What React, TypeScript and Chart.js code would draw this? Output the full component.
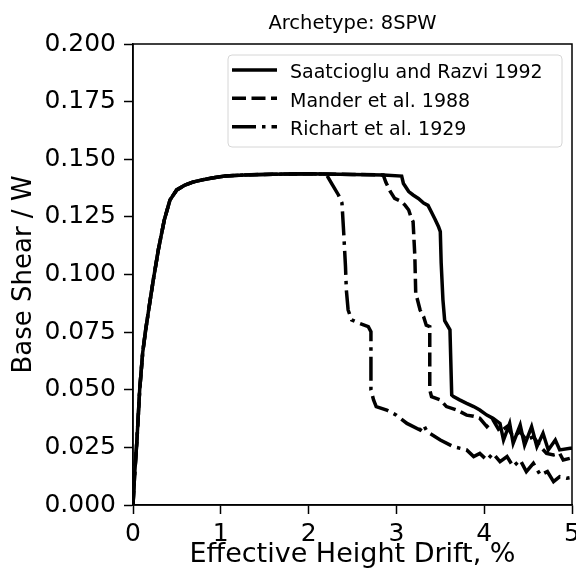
import React, { useEffect, useRef } from 'react';
import { Chart, registerables } from 'chart.js';

Chart.register(...registerables);

const TITLE = 'Archetype: 8SPW';
const X_LABEL = 'Effective Height Drift, %';
const Y_LABEL = 'Base Shear / W';
const SERIES_NAMES = ['Saatcioglu and Razvi 1992', 'Mander et al. 1988', 'Richart et al. 1929'];
const X_MIN = 0;
const X_MAX = 5;
const X_STEP = 1;
const Y_MIN = 0;
const Y_MAX = 0.2;
const Y_STEP = 0.025;

// shared elastic rise and plateau
const commonDrift = [0, 0.02, 0.045, 0.076, 0.11, 0.144, 0.19, 0.231, 0.29, 0.356, 0.421, 0.498, 0.592, 0.68, 0.782, 0.9, 1.048, 1.276, 1.6, 2.0, 2.2];
const commonShear = [0, 0.014, 0.0282, 0.0499, 0.066, 0.0759, 0.0875, 0.0976, 0.111, 0.1236, 0.1323, 0.1367, 0.1388, 0.1401, 0.141, 0.1419, 0.1427, 0.1432, 0.1435, 0.1437, 0.1436];

const saatDrift = [2.5, 2.85, 3.06, 3.08, 3.14, 3.19, 3.25, 3.31, 3.36, 3.4, 3.44, 3.48, 3.5, 3.51, 3.53, 3.55, 3.61, 3.63, 3.65, 3.72, 3.8, 3.88, 3.95, 4.03, 4.1, 4.18, 4.22, 4.29, 4.33, 4.41, 4.46, 4.54, 4.6, 4.67, 4.73, 4.81, 4.86, 4.98, 5.0];
const saatShear = [0.1434, 0.1432, 0.1427, 0.1395, 0.136, 0.1345, 0.133, 0.131, 0.13, 0.127, 0.124, 0.1207, 0.1186, 0.105, 0.089, 0.08, 0.076, 0.0477, 0.047, 0.0456, 0.0441, 0.0427, 0.0412, 0.039, 0.0376, 0.0354, 0.0282, 0.0354, 0.0268, 0.0347, 0.026, 0.034, 0.0253, 0.0311, 0.0239, 0.0282, 0.0239, 0.0246, 0.0246];

const manderDrift = [2.5, 2.85, 2.88, 2.93, 2.98, 3.06, 3.1, 3.14, 3.17, 3.19, 3.21, 3.22, 3.27, 3.31, 3.34, 3.38, 3.38, 3.4, 3.5, 3.57, 3.69, 3.8, 3.88, 3.95, 4.03, 4.1, 4.18, 4.26, 4.33, 4.41, 4.48, 4.56, 4.64, 4.71, 4.79, 4.86, 4.9, 4.98, 5.0];
const manderShear = [0.1434, 0.1432, 0.14, 0.136, 0.133, 0.1316, 0.13, 0.128, 0.1244, 0.1229, 0.108, 0.092, 0.0846, 0.0817, 0.078, 0.0774, 0.0499, 0.047, 0.0456, 0.0427, 0.0412, 0.039, 0.0385, 0.0376, 0.034, 0.0369, 0.0318, 0.034, 0.0296, 0.0318, 0.0282, 0.0296, 0.0253, 0.0224, 0.0217, 0.0224, 0.0195, 0.0203, 0.0205];

const richartDrift = [2.27, 2.34, 2.38, 2.4, 2.42, 2.43, 2.45, 2.49, 2.58, 2.68, 2.71, 2.71, 2.74, 2.77, 2.89, 3.0, 3.12, 3.27, 3.31, 3.35, 3.5, 3.65, 3.8, 3.88, 3.95, 4.03, 4.1, 4.18, 4.26, 4.33, 4.41, 4.48, 4.56, 4.64, 4.72, 4.79, 4.86, 4.94, 5.0];
const richartShear = [0.139, 0.1345, 0.131, 0.118, 0.1035, 0.0933, 0.0846, 0.0803, 0.0788, 0.0774, 0.0752, 0.0499, 0.0456, 0.0427, 0.0412, 0.039, 0.0354, 0.0325, 0.0347, 0.0318, 0.0282, 0.0253, 0.0239, 0.021, 0.0224, 0.0195, 0.0224, 0.0188, 0.021, 0.0167, 0.0195, 0.0145, 0.0181, 0.013, 0.0145, 0.0101, 0.0123, 0.0116, 0.012];

const FONT = '"DejaVu Sans", "Liberation Sans", sans-serif';
const LINE_W = 3.5;
const DASHES = [[], [14, 5.5], [24, 6, 3.5, 6]];

function toPoints(xs: number[], ys: number[]) {
  return xs.map((x, i) => ({ x, y: ys[i] }));
}

const overlayPlugin = {
  id: 'overlay',
  afterDraw(chart: any) {
    const { ctx, chartArea: a } = chart;
    ctx.save();
    // spines
    ctx.strokeStyle = '#000';
    ctx.lineWidth = 1.5;
    ctx.setLineDash([]);
    ctx.strokeRect(a.left, a.top, a.right - a.left, a.bottom - a.top);
    // title
    ctx.fillStyle = '#000';
    ctx.font = `19.5px ${FONT}`;
    ctx.textAlign = 'center';
    ctx.textBaseline = 'alphabetic';
    ctx.fillText(TITLE, (a.left + a.right) / 2, a.top - 15.5);
    // legend box
    const lx = a.left + 95;
    const ly = a.top + 11;
    const lw = 334;
    const lh = 92;
    const r = 4;
    ctx.beginPath();
    ctx.moveTo(lx + r, ly);
    ctx.lineTo(lx + lw - r, ly);
    ctx.arcTo(lx + lw, ly, lx + lw, ly + r, r);
    ctx.lineTo(lx + lw, ly + lh - r);
    ctx.arcTo(lx + lw, ly + lh, lx + lw - r, ly + lh, r);
    ctx.lineTo(lx + r, ly + lh);
    ctx.arcTo(lx, ly + lh, lx, ly + lh - r, r);
    ctx.lineTo(lx, ly + r);
    ctx.arcTo(lx, ly, lx + r, ly, r);
    ctx.closePath();
    ctx.fillStyle = 'rgba(255,255,255,0.8)';
    ctx.fill();
    ctx.strokeStyle = '#d6d6d6';
    ctx.lineWidth = 1;
    ctx.stroke();
    // legend entries
    ctx.font = `19px ${FONT}`;
    ctx.textAlign = 'left';
    chart.data.datasets.forEach((ds: any, i: number) => {
      const y = a.top + 26 + i * 28.35;
      ctx.strokeStyle = '#000';
      ctx.lineWidth = LINE_W;
      ctx.lineCap = 'butt';
      ctx.setLineDash(ds.borderDash || []);
      ctx.beginPath();
      ctx.moveTo(lx + 4, y);
      ctx.lineTo(lx + 49, y);
      ctx.stroke();
      ctx.setLineDash([]);
      ctx.fillStyle = '#000';
      ctx.fillText(ds.label, lx + 62, y + 8.3);
    });
    ctx.restore();
  },
};

export default function App() {
  const ref = useRef<HTMLCanvasElement | null>(null);
  useEffect(() => {
    if (!ref.current) return;
    const seriesX = [
      [...commonDrift, ...saatDrift],
      [...commonDrift, ...manderDrift],
      [...commonDrift, ...richartDrift],
    ];
    const seriesY = [
      [...commonShear, ...saatShear],
      [...commonShear, ...manderShear],
      [...commonShear, ...richartShear],
    ];
    const chart = new Chart(ref.current, {
      type: 'line',
      data: {
        datasets: SERIES_NAMES.map((name, i) => ({
          label: name,
          data: toPoints(seriesX[i], seriesY[i]),
          borderColor: '#000',
          backgroundColor: '#000',
          borderWidth: LINE_W,
          borderDash: DASHES[i],
          borderCapStyle: 'butt',
          pointRadius: 0,
          pointHoverRadius: 0,
          tension: 0,
          fill: false,
          order: 2 - i,
        })),
      },
      options: {
        responsive: false,
        animation: false,
        events: [],
        layout: { padding: { top: 44, right: 4, left: 0, bottom: 0 } },
        plugins: {
          legend: { display: false },
          title: { display: false },
          tooltip: { enabled: false },
        },
        scales: {
          x: {
            type: 'linear',
            min: X_MIN,
            max: X_MAX,
            afterFit: (s: any) => {
              s.height = 78;
              s.paddingRight = 0;
              s.paddingLeft = 0;
            },
            ticks: {
              stepSize: X_STEP,
              color: '#000',
              padding: 5,
              font: { family: FONT, size: 25 },
              maxRotation: 0,
            },
            grid: {
              drawOnChartArea: false,
              drawTicks: true,
              tickLength: 9,
              tickWidth: 1.5,
              tickColor: '#000',
            },
            border: { display: true, color: '#000', width: 1.5 },
            title: {
              display: true,
              text: X_LABEL,
              color: '#000',
              font: { family: FONT, size: 27 },
              padding: { top: 0, bottom: 12 },
            },
          },
          y: {
            type: 'linear',
            min: Y_MIN,
            max: Y_MAX,
            afterFit: (s: any) => {
              s.width = 133;
            },
            ticks: {
              stepSize: Y_STEP,
              color: '#000',
              padding: 8,
              font: { family: FONT, size: 25 },
              callback: (v: any) => Number(v).toFixed(3),
            },
            grid: {
              drawOnChartArea: false,
              drawTicks: true,
              tickLength: 9,
              tickWidth: 1.5,
              tickColor: '#000',
            },
            border: { display: true, color: '#000', width: 1.5 },
            title: {
              display: true,
              text: Y_LABEL,
              color: '#000',
              font: { family: FONT, size: 26 },
              padding: { top: 9, bottom: 0 },
            },
          },
        },
      },
      plugins: [overlayPlugin],
    } as any);
    return () => chart.destroy();
  }, []);
  return (
    <div style={{ position: 'absolute', left: 0, top: 0, width: 576, height: 583, background: '#fff' }}>
      <canvas ref={ref} width={576} height={583} style={{ display: 'block' }} />
    </div>
  );
}
